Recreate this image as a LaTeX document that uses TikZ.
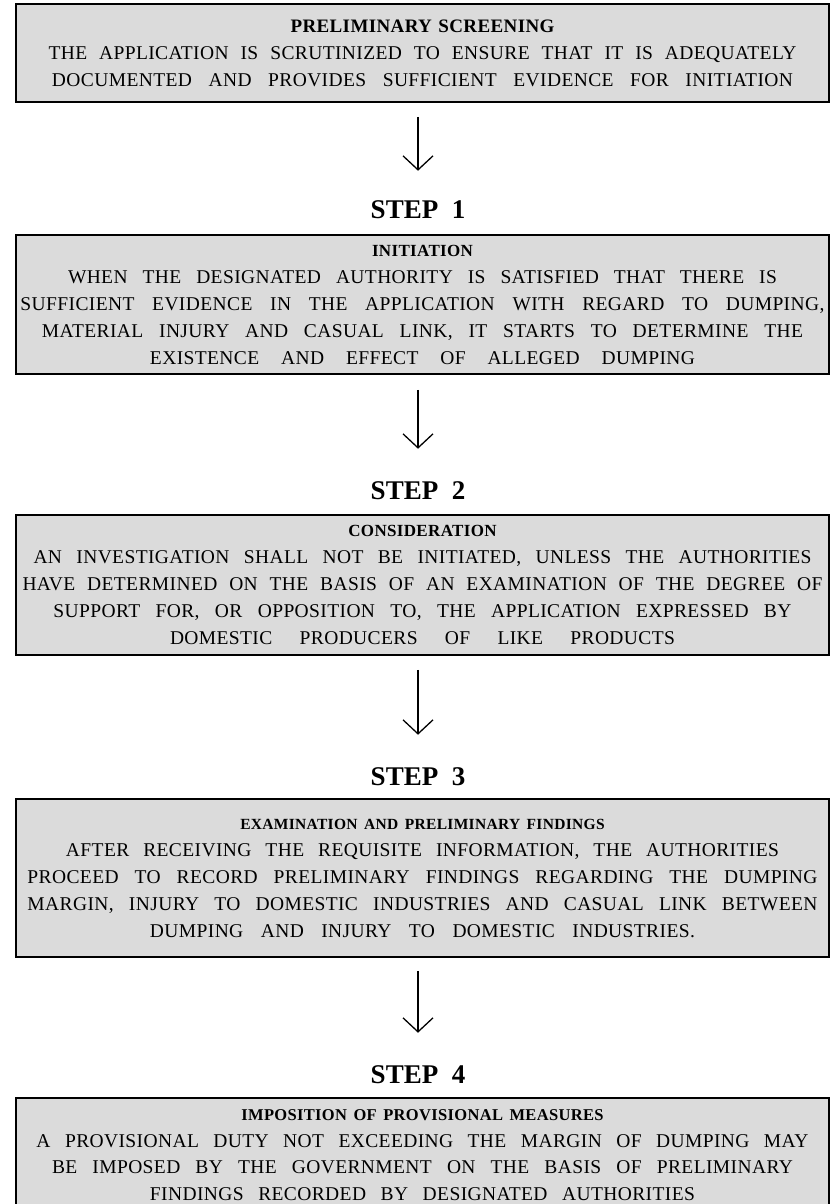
\documentclass[tikz,border=0pt]{standalone}
\usepackage{fontspec}
\setmainfont{Liberation Serif}
\usetikzlibrary{arrows.meta}
\newcommand\fitl[2]{\leavevmode\hbox to #1pt{\spaceskip=0.3em plus 1fil minus 0.1em\relax #2}}
\begin{document}
\begin{tikzpicture}[x=1pt,y=-1pt,
  stepbox/.style={draw=black, line width=1.6pt, fill=black!14, minimum width=813pt,
    inner sep=0pt, align=center, text width=813pt,
    font=\fontsize{19.5}{27}\selectfont\addfontfeatures{LetterSpace=2}},
  steplabel/.style={inner sep=0pt, font=\fontsize{27}{30}\selectfont\bfseries},
  flow/.style={line width=1.3pt, -{Straight Barb[length=14pt,width=30pt,line width=1.3pt]}}]
\clip (0,0) rectangle (832,1204);
\fill[white] (0,0) rectangle (832,1204);

\node[stepbox, minimum height=98pt] (b1) at (422.5,53) {{\bfseries\fontsize{19}{27}\selectfont PRELIMINARY SCREENING}\\
\fitl{748}{THE APPLICATION IS SCRUTINIZED TO ENSURE THAT IT IS ADEQUATELY}\\
\fitl{741}{DOCUMENTED AND PROVIDES SUFFICIENT EVIDENCE FOR INITIATION}};

\node[steplabel] (s1) at (418,210) {STEP\ \ 1};

\node[stepbox, minimum height=139pt] (b2) at (422.5,304.5) {{\bfseries\fontsize{17}{27}\selectfont INITIATION}\\
\fitl{709}{WHEN THE DESIGNATED AUTHORITY IS SATISFIED THAT THERE IS}\\
\fitl{804}{SUFFICIENT EVIDENCE IN THE APPLICATION WITH REGARD TO DUMPING,}\\
\fitl{761}{MATERIAL INJURY AND CASUAL LINK, IT STARTS TO DETERMINE THE}\\
\fitl{545}{EXISTENCE AND EFFECT OF ALLEGED DUMPING}};

\node[steplabel] (s2) at (418,491) {STEP\ \ 2};

\node[stepbox, minimum height=140pt] (b3) at (422.5,585) {{\bfseries\fontsize{17}{27}\selectfont CONSIDERATION}\\
\fitl{778}{AN INVESTIGATION SHALL NOT BE INITIATED, UNLESS THE AUTHORITIES}\\
\fitl{800}{HAVE DETERMINED ON THE BASIS OF AN EXAMINATION OF THE DEGREE OF}\\
\fitl{738}{SUPPORT FOR, OR OPPOSITION TO, THE APPLICATION EXPRESSED BY}\\
\fitl{505}{DOMESTIC PRODUCERS OF LIKE PRODUCTS}};

\node[steplabel] (s3) at (418,777) {STEP\ \ 3};

\node[stepbox, minimum height=158pt] (b4) at (422.5,878) {{\bfseries\fontsize{15.5}{27}\selectfont EXAMINATION AND PRELIMINARY FINDINGS}\\
\fitl{713}{AFTER RECEIVING THE REQUISITE INFORMATION, THE AUTHORITIES}\\
\fitl{790}{PROCEED TO RECORD PRELIMINARY FINDINGS REGARDING THE DUMPING}\\
\fitl{790}{MARGIN, INJURY TO DOMESTIC INDUSTRIES AND CASUAL LINK BETWEEN}\\
\fitl{545}{DUMPING AND INJURY TO DOMESTIC INDUSTRIES.}};

\node[steplabel] (s4) at (418,1075) {STEP\ \ 4};

\node[stepbox, anchor=north, inner ysep=12pt, font=\fontsize{19.5}{26.5}\selectfont\addfontfeatures{LetterSpace=2}] (b5) at (422.5,1097) {{\bfseries\fontsize{16.5}{26.5}\selectfont IMPOSITION OF PROVISIONAL MEASURES}\\
\fitl{772}{A PROVISIONAL DUTY NOT EXCEEDING THE MARGIN OF DUMPING MAY}\\
\fitl{741}{BE IMPOSED BY THE GOVERNMENT ON THE BASIS OF PRELIMINARY}\\
\fitl{545}{FINDINGS RECORDED BY DESIGNATED AUTHORITIES}};

\draw[flow, shorten <=14pt, shorten >=30pt] (b1.south -| s1) -- (s1.north);
\draw[flow, shorten <=15pt, shorten >=33pt] (b2.south -| s2) -- (s2.north);
\draw[flow, shorten <=14pt, shorten >=33pt] (b3.south -| s3) -- (s3.north);
\draw[flow, shorten <=13pt, shorten >=33pt] (b4.south -| s4) -- (s4.north);
\end{tikzpicture}
\end{document}
